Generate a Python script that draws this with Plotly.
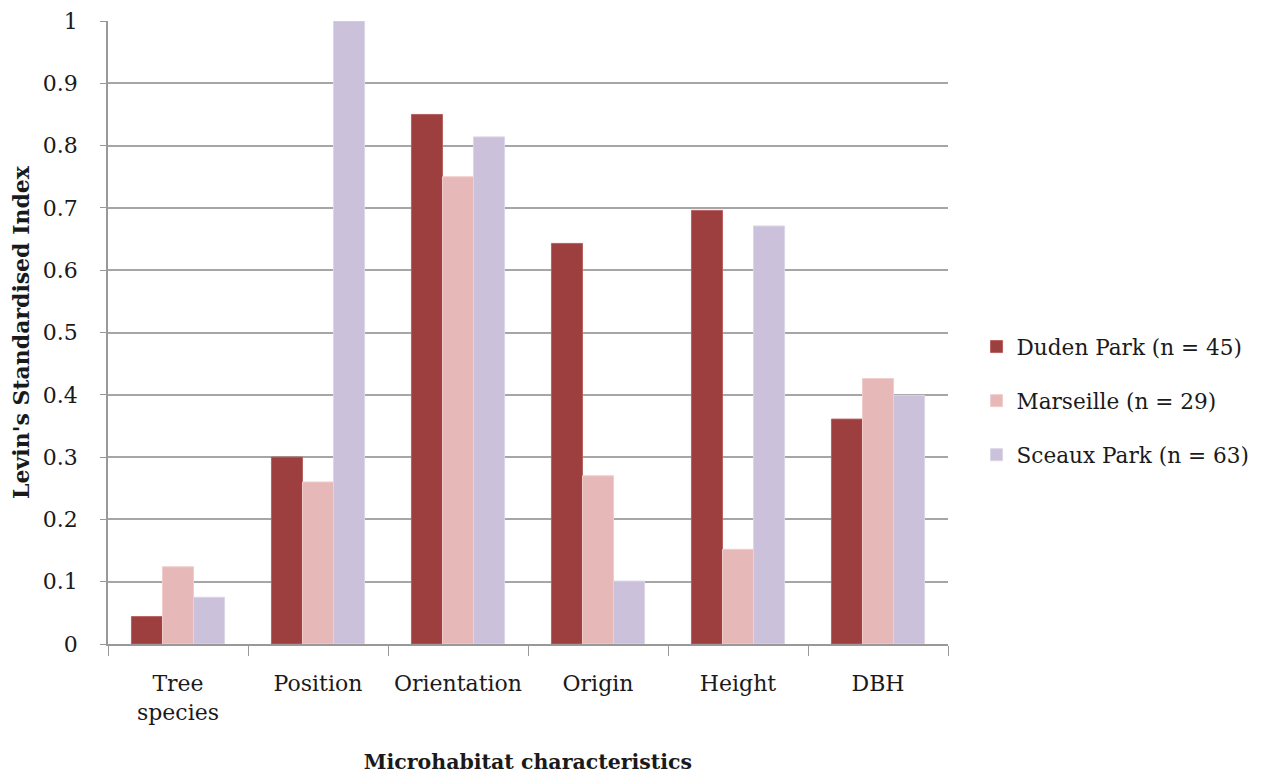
import plotly.graph_objects as go

categories = ["Tree<br>species", "Position", "Orientation", "Origin", "Height", "DBH"]
duden = [0.044, 0.30, 0.850, 0.643, 0.696, 0.361]
marseille = [0.124, 0.26, 0.750, 0.270, 0.152, 0.426]
sceaux = [0.075, 1.00, 0.814, 0.101, 0.671, 0.399]
series_names = ["Duden Park (n = 45)", "Marseille (n = 29)", "Sceaux Park (n = 63)"]
colors = ["#9C3F3E", "#E6B9B8", "#CCC1DA"]
edges = ["#B86060", "#F0CCCB", "#DDD4E8"]

font_family = "DejaVu Serif, Liberation Serif, serif"

fig = go.Figure()
for i, (name, vals, c, e) in enumerate(zip(series_names, [duden, marseille, sceaux], colors, edges)):
    fig.add_trace(go.Bar(x=categories, y=vals, name=name, legendgroup=f"g{i}",
                         marker=dict(color=c, line=dict(color=e, width=1))))

fig.update_layout(
    width=1259, height=768,
    margin=dict(l=100, r=319, t=13, b=132),
    paper_bgcolor="white", plot_bgcolor="white",
    barmode="group", bargap=0.335, bargroupgap=0,
    font=dict(family=font_family, size=21, color="#1a1a1a"),
    legend=dict(x=1.034, y=0.39, yanchor="middle", xanchor="left",
                font=dict(size=21.6), tracegroupgap=23, traceorder="grouped"),
    xaxis=dict(
        title=dict(text="<b>Microhabitat characteristics</b>", font=dict(size=20.5), standoff=31),
        showline=True, linecolor="#999", linewidth=1.5,
        ticks="outside", tickson="boundaries", ticklen=10, tickcolor="#999",
        tickfont=dict(size=22), tickangle=0, ticklabelstandoff=19, automargin=False,
    ),
    yaxis=dict(
        title=dict(text="<b>Levin's Standardised Index</b>", font=dict(size=22), standoff=8),
        range=[0, 1], dtick=0.1, tickformat="~g",
        showline=True, linecolor="#999", linewidth=1.5,
        showgrid=True, gridcolor="#A6A6A6", gridwidth=1.5,
        ticks="outside", ticklen=6, tickcolor="#999",
        tickfont=dict(size=22), ticklabelstandoff=18, zeroline=False, automargin=False,
    ),
)

fig.write_html("out.html")
